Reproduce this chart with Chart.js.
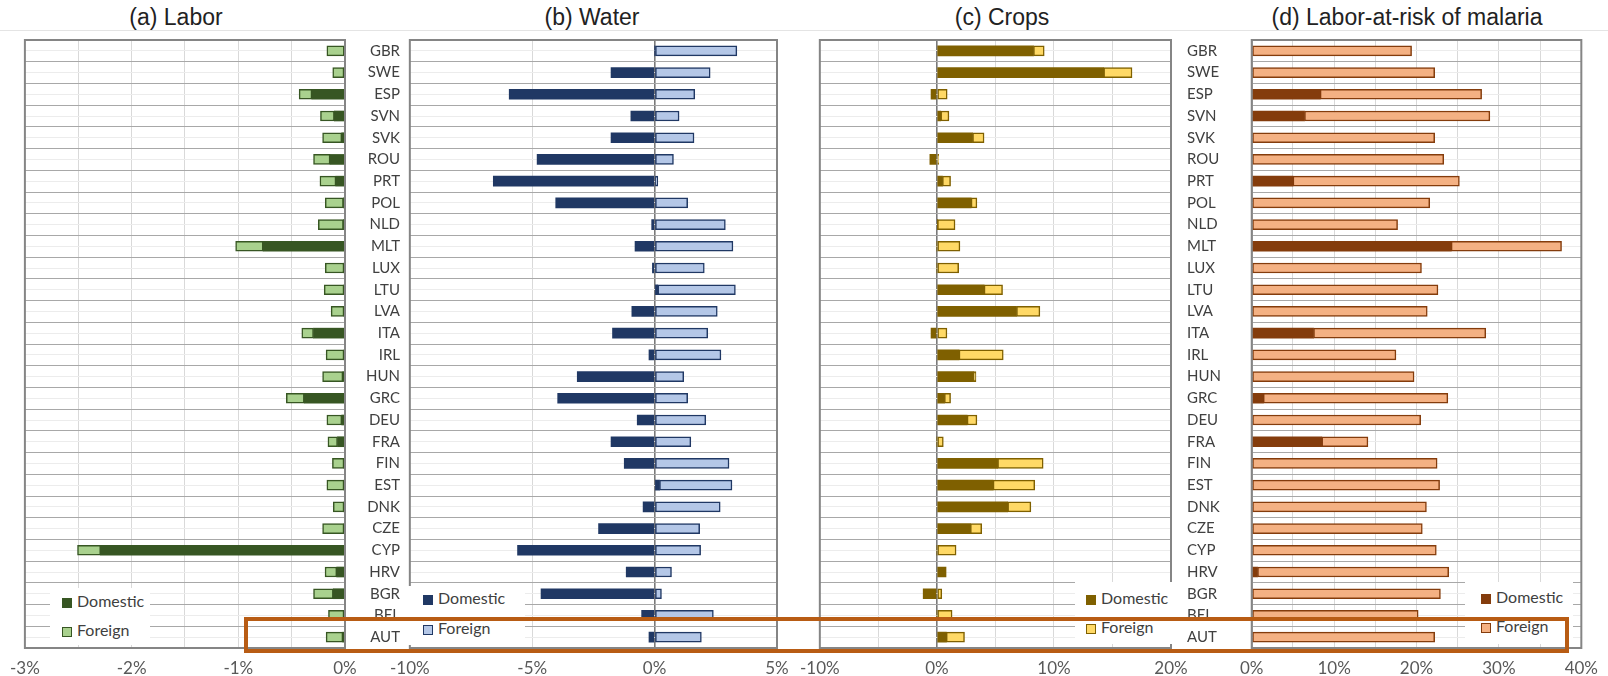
<!DOCTYPE html>
<html>
<head>
<meta charset="utf-8">
<title>Labor, water, crops and malaria impacts</title>
<script src="https://cdn.jsdelivr.net/npm/chart.js@4.4.1/dist/chart.umd.min.js"></script>
<style>
    body {
        margin: 0;
        width: 1608px;
        height: 676px;
        position: relative;
        overflow: hidden;
        background: #fff;
        font-family: Lato, "Open Sans", sans-serif;
    }
    canvas { position: absolute; }
    .title {
        position: absolute;
        top: 3px;
        width: 360px;
        text-align: center;
        font: 23px "Liberation Sans", Arial, sans-serif;
        line-height: 28px;
        color: #222;
    }
    .rule {
        position: absolute;
        left: 0;
        top: 30px;
        width: 1608px;
        height: 1px;
        background: #e4e4e4;
    }
    .legend {
        position: absolute;
        background: #fff;
        font: 16px Lato, sans-serif;
        color: #404040;
    }
    .legend .item {
        position: absolute;
        height: 20px;
        line-height: 20px;
        white-space: nowrap;
    }
    .legend .swatch {
        display: inline-block;
        width: 10px;
        height: 10px;
        box-sizing: border-box;
        margin-right: 5px;
        vertical-align: -1px;
    }
    .highlight {
        position: absolute;
        left: 244px;
        top: 617px;
        width: 1325px;
        height: 36px;
        box-sizing: border-box;
        border: 4px solid #b85c14;
    }
</style>
</head>
<body>
<div class="rule"></div>
<div class="title" style="left:-4px">(a) Labor</div>
<div class="title" style="left:412px">(b) Water</div>
<div class="title" style="left:822px">(c) Crops</div>
<div class="title" style="left:1227px">(d) Labor-at-risk of malaria</div>

<canvas id="laborChart" width="400" height="646" style="left:0;top:30px"></canvas>
<canvas id="waterChart" width="420" height="646" style="left:380px;top:30px"></canvas>
<canvas id="cropsChart" width="450" height="646" style="left:790px;top:30px"></canvas>
<canvas id="malariaChart" width="378" height="646" style="left:1230px;top:30px"></canvas>

<div id="legends"></div>
<div class="highlight"></div>

<script>
// Country order, top to bottom
const countries = ['GBR', 'SWE', 'ESP', 'SVN', 'SVK', 'ROU', 'PRT', 'POL', 'NLD', 'MLT',
    'LUX', 'LTU', 'LVA', 'ITA', 'IRL', 'HUN', 'GRC', 'DEU', 'FRA', 'FIN',
    'EST', 'DNK', 'CZE', 'CYP', 'HRV', 'BGR', 'BEL', 'AUT'];

const seriesNames = ['Domestic', 'Foreign'];

// (a) Labor, % change
const laborDomestic = [0, -0.01, -0.31, -0.1, -0.03, -0.14, -0.085, -0.015, -0.015, -0.767,
    -0.01, -0.01, -0.01, -0.295, -0.01, -0.02, -0.382, -0.03, -0.07, -0.01,
    -0.01, -0.01, -0.01, -2.29, -0.077, -0.11, -0.01, -0.02];
const laborForeign = [-0.17, -0.105, -0.12, -0.13, -0.18, -0.155, -0.15, -0.17, -0.235, -0.258,
    -0.175, -0.185, -0.12, -0.11, -0.167, -0.19, -0.168, -0.14, -0.09, -0.108,
    -0.16, -0.1, -0.2, -0.217, -0.11, -0.185, -0.145, -0.157];

// (b) Water, % change
const waterDomestic = [0, -1.78, -5.94, -0.97, -1.78, -4.8, -6.59, -4.04, -0.12, -0.8,
    -0.09, 0.13, -0.93, -1.72, -0.23, -3.16, -3.96, -0.71, -1.78, -1.24,
    0.2, -0.47, -2.29, -5.6, -1.16, -4.64, -0.53, -0.23];
const waterForeign = [3.36, 2.27, 1.64, 1.0, 1.61, 0.77, 0.13, 1.35, 2.89, 3.2,
    2.03, 3.17, 2.56, 2.17, 2.71, 1.19, 1.35, 2.09, 1.48, 3.04,
    2.96, 2.68, 1.84, 1.88, 0.69, 0.28, 2.4, 1.91];

// (c) Crops, % change
const cropsDomestic = [8.25, 14.25, -0.5, 0.33, 3.05, -0.6, 0.47, 2.92, 0.05, 0,
    0, 4.03, 6.8, -0.5, 1.89, 3.14, 0.64, 2.58, 0, 5.19,
    4.8, 6.05, 2.86, 0, 0.78, -1.17, 0, 0.8];
const cropsForeign = [0.92, 2.42, 0.88, 0.7, 0.98, 0.15, 0.7, 0.5, 1.5, 1.97,
    1.86, 1.58, 2.0, 0.86, 3.78, 0.2, 0.53, 0.84, 0.55, 3.89,
    3.56, 1.98, 0.97, 1.64, 0, 0.42, 1.3, 1.56];

// (d) Labor-at-risk of malaria, %
const malariaDomestic = [0, 0, 8.3, 6.4, 0, 0, 5.0, 0, 0, 24.2,
    0, 0, 0, 7.5, 0, 0, 1.4, 0, 8.5, 0,
    0, 0, 0, 0, 0.7, 0, 0, 0];
const malariaForeign = [19.4, 22.2, 19.6, 22.5, 22.2, 23.3, 20.2, 21.6, 17.7, 13.4,
    20.6, 22.6, 21.3, 20.9, 17.5, 19.7, 22.4, 20.5, 5.6, 22.5,
    22.8, 21.2, 20.7, 22.4, 23.2, 22.9, 20.2, 22.2];

// Axis ranges: [min, max, grid step, label step]
const laborAxis = [-3, 0, 0.5, 1];
const waterAxis = [-10, 5, 5, 5];
const cropsAxis = [-10, 20, 5, 10];
const malariaAxis = [0, 40, 5, 10];

const ROW_FONT = { family: 'Lato', size: 15 };
const TICK_FONT = { family: 'Lato', size: 17 };

// Plot frame drawn on top of the bars, like the Excel axis lines
const framePlugin = {
    id: 'frame',
    afterDraw(chart) {
        const { ctx, chartArea: a } = chart;
        ctx.save();
        ctx.strokeStyle = '#858585';
        ctx.lineWidth = 2;
        ctx.strokeRect(a.left, a.top, a.right - a.left, a.bottom - a.top);
        ctx.restore();
    }
};

function buildPanel(id, panel) {
    const [min, max, step, labelStep] = panel.axis;

    const yAxis = {
        type: 'category',
        position: panel.labelSide || 'left',
        stacked: true,
        offset: true,
        grid: { offset: true, color: '#a8a8a8', lineWidth: 1, drawTicks: false },
        border: { display: false },
        ticks: {
            display: !!panel.labelSide,
            color: '#404040',
            font: ROW_FONT,
            crossAlign: panel.labelAlign || 'near',
            padding: panel.labelPadding || 0,
            autoSkip: false
        },
        afterFit: (scale) => {
            scale.width = panel.labelWidth || 0;
            // keep the row labels from pushing the plot down
            scale.paddingTop = 0;
            scale.paddingBottom = 0;
        }
    };

    return new Chart(document.getElementById(id), {
        type: 'bar',
        data: {
            labels: countries,
            datasets: [
                {
                    label: seriesNames[0],
                    data: panel.domestic,
                    backgroundColor: panel.dark,
                    borderWidth: 0,
                    barThickness: 10
                },
                {
                    label: seriesNames[1],
                    data: panel.foreign,
                    backgroundColor: panel.light,
                    borderColor: panel.dark,
                    borderWidth: 1.5,
                    borderSkipped: false,
                    barThickness: 10
                }
            ]
        },
        options: {
            indexAxis: 'y',
            responsive: false,
            animation: false,
            layout: { padding: panel.padding },
            plugins: {
                legend: { display: false },
                tooltip: { enabled: false }
            },
            scales: {
                x: {
                    type: 'linear',
                    stacked: true,
                    min: min,
                    max: max,
                    border: { display: false },
                    grid: {
                        drawTicks: false,
                        color: (ctx) => (ctx.tick && ctx.tick.value === 0 ? '#7a7a7a' : '#d9d9d9'),
                        lineWidth: (ctx) => (ctx.tick && ctx.tick.value === 0 ? 1.6 : 1)
                    },
                    ticks: {
                        stepSize: step,
                        autoSkip: false,
                        maxRotation: 0,
                        padding: 10,
                        color: '#595959',
                        font: TICK_FONT,
                        callback: (v) => (Math.abs(v % labelStep) < 1e-9 ? Math.round(v) + '%' : '')
                    },
                    afterFit: (scale) => { scale.height = 28; }
                },
                y: yAxis,
                // faint line through the middle of each row
                yMid: {
                    type: 'category',
                    axis: 'y',
                    position: 'left',
                    offset: true,
                    grid: { offset: false, color: '#ececec', lineWidth: 1, drawTicks: false },
                    border: { display: false },
                    ticks: { display: false },
                    afterFit: (scale) => { scale.width = 0; }
                }
            }
        },
        plugins: [framePlugin]
    });
}

// Legend drawn as text boxes sitting inside the plot, like the Excel original
function buildLegend(chart, box) {
    const el = document.createElement('div');
    el.className = 'legend';
    el.style.left = box.left + 'px';
    el.style.top = box.top + 'px';
    el.style.width = box.width + 'px';
    el.style.height = box.height + 'px';

    chart.data.datasets.forEach((ds, i) => {
        const item = document.createElement('div');
        item.className = 'item';
        item.style.left = box.markerX + 'px';
        item.style.top = (box.firstY + i * box.rowGap - 10) + 'px';

        const swatch = document.createElement('span');
        swatch.className = 'swatch';
        swatch.style.background = ds.backgroundColor;
        swatch.style.border = i === 0 ? 'none' : '1.5px solid ' + ds.borderColor;

        item.appendChild(swatch);
        item.appendChild(document.createTextNode(ds.label));
        el.appendChild(item);
    });

    document.getElementById('legends').appendChild(el);
}

// (a) Labor
const laborChart = buildPanel('laborChart', {
    axis: laborAxis,
    domestic: laborDomestic,
    foreign: laborForeign,
    dark: '#375623',
    light: '#a9d18e',
    padding: { left: 23, right: 0, top: 10, bottom: 0 },
    labelSide: 'right',
    labelAlign: 'far',
    labelPadding: 5,
    labelWidth: 55
});

// (b) Water
const waterChart = buildPanel('waterChart', {
    axis: waterAxis,
    domestic: waterDomestic,
    foreign: waterForeign,
    dark: '#203864',
    light: '#b4c7e7',
    padding: { left: 22, right: 23, top: 10, bottom: 0 }
});

// (c) Crops
const cropsChart = buildPanel('cropsChart', {
    axis: cropsAxis,
    domestic: cropsDomestic,
    foreign: cropsForeign,
    dark: '#7f6000',
    light: '#ffd966',
    padding: { left: 23, right: 0, top: 10, bottom: 0 },
    labelSide: 'right',
    labelAlign: 'near',
    labelPadding: 16,
    labelWidth: 69
});

// (d) Labor-at-risk of malaria
const malariaChart = buildPanel('malariaChart', {
    axis: malariaAxis,
    domestic: malariaDomestic,
    foreign: malariaForeign,
    dark: '#843c0c',
    light: '#f4b183',
    padding: { left: 13, right: 22, top: 10, bottom: 0 }
});

buildLegend(laborChart, { left: 50, top: 588, width: 100, height: 57, markerX: 12, firstY: 13, rowGap: 29 });
buildLegend(waterChart, { left: 403, top: 586, width: 122, height: 59, markerX: 20, firstY: 12, rowGap: 30 });
buildLegend(cropsChart, { left: 1075, top: 582, width: 110, height: 62, markerX: 11, firstY: 16, rowGap: 29 });
buildLegend(malariaChart, { left: 1465, top: 582, width: 108, height: 62, markerX: 16, firstY: 15, rowGap: 29 });
</script>
</body>
</html>
